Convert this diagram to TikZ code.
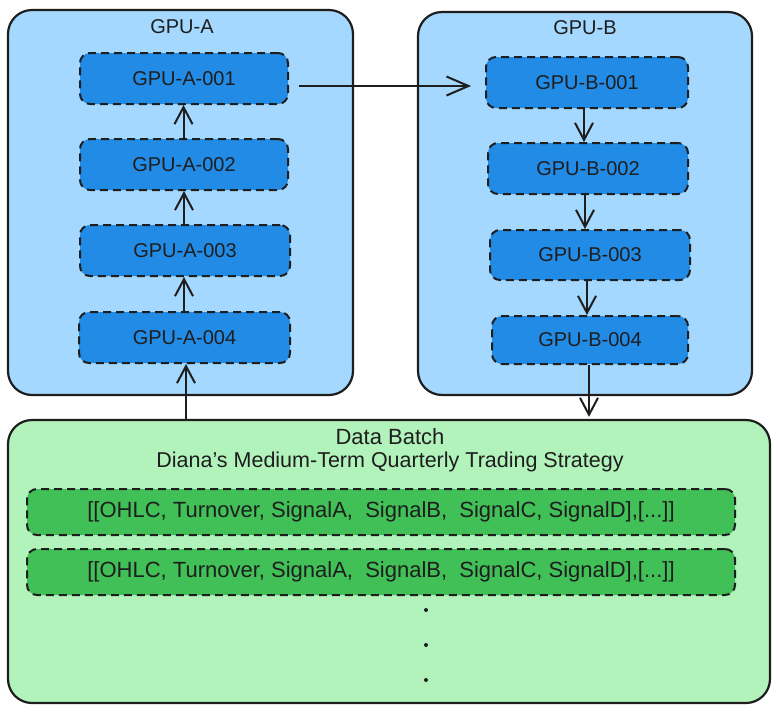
\documentclass[tikz,border=0pt]{standalone}
\usepackage{fontspec}
\setmainfont{Liberation Sans}
\usetikzlibrary{arrows.meta,calc}
\definecolor{ink}{HTML}{1E1E1E}
\definecolor{lblue}{HTML}{A5D8FF}
\definecolor{dblue}{HTML}{228BE6}
\definecolor{lgreen}{HTML}{B2F2BB}
\definecolor{dgreen}{HTML}{40C057}
\tikzset{
  container/.style={draw=ink,line width=2.2pt,rounded corners=24pt,inner sep=0pt},
  bluecont/.style={container,fill=lblue},
  greencont/.style={container,fill=lgreen},
  gpubox/.style={draw=ink,line width=2pt,dash pattern=on 8pt off 5pt,rounded corners=10pt,fill=dblue,inner sep=0pt,font=\fontsize{20}{23}\selectfont,text=ink},
  rowbox/.style={draw=ink,line width=2pt,dash pattern=on 8pt off 5pt,rounded corners=10pt,fill=dgreen,inner sep=0pt,minimum width=708pt,minimum height=46pt,font=\fontsize{22}{24}\selectfont,text=ink},
  titletext/.style={font=\fontsize{20}{23}\selectfont,text=ink,inner sep=0pt},
  flow/.style={draw=ink,line width=2pt,-{Straight Barb[length=17pt,width=18pt,line width=2pt]}},
  longflow/.style={draw=ink,line width=2pt,-{Straight Barb[length=22pt,width=19pt,line width=2pt]}},
  dotmark/.style={circle,fill=ink,inner sep=0pt,minimum size=4pt}
}
\begin{document}
\begin{tikzpicture}[x=1pt,y=-1pt]
\useasboundingbox[fill=white] (0,0) rectangle (780,713);
% containers
\node[bluecont,minimum width=345pt,minimum height=385pt] (contA) at (180.5,202.5) {};
\node[bluecont,minimum width=334pt,minimum height=383pt] (contB) at (585,203.5) {};
\node[greencont,minimum width=762pt,minimum height=283pt] (data) at (389,561.5) {};
% titles
\node[titletext] (titleA) at (182,27) {GPU-A};
\node[titletext] (titleB) at (585,28) {GPU-B};
\node[titletext,font=\fontsize{22}{24}\selectfont] (titleD1) at (390,437) {Data Batch};
\node[titletext,font=\fontsize{21.5}{24}\selectfont] (titleD2) at (390,462) {Diana's Medium-Term Quarterly Trading Strategy};
% GPU-A boxes
\node[gpubox,minimum width=208pt,minimum height=51pt] (A1) at (184,78.5) {GPU-A-001};
\node[gpubox,minimum width=208pt,minimum height=51pt] (A2) at (184,164.5) {GPU-A-002};
\node[gpubox,minimum width=210pt,minimum height=51pt] (A3) at (185,250.5) {GPU-A-003};
\node[gpubox,minimum width=211pt,minimum height=51pt] (A4) at (184.5,337.5) {GPU-A-004};
% GPU-B boxes
\node[gpubox,minimum width=202pt,minimum height=51pt] (B1) at (587,82.5) {GPU-B-001};
\node[gpubox,minimum width=200pt,minimum height=51pt] (B2) at (588,168.5) {GPU-B-002};
\node[gpubox,minimum width=200pt,minimum height=50pt] (B3) at (590,255) {GPU-B-003};
\node[gpubox,minimum width=196pt,minimum height=48pt] (B4) at (590,340) {GPU-B-004};
% data rows
\node[rowbox] (row1) at (381,512) {[[OHLC, Turnover, SignalA,\ \ SignalB,\ \ SignalC, SignalD],[...]]};
\node[rowbox] (row2) at (381,572) {[[OHLC, Turnover, SignalA,\ \ SignalB,\ \ SignalC, SignalD],[...]]};
\node[dotmark] (d1) at (426,610) {};
\node[dotmark] (d2) at (426,645) {};
\node[dotmark] (d3) at (426,680) {};
% arrows GPU-A (upwards)
\draw[flow] (data.north -| 186,0) -- (A4.south -| 186,0);
\draw[flow] (A4.north -| 184,0) -- (A3.south -| 184,0);
\draw[flow] (A3.north -| 184,0) -- (A2.south -| 184,0);
\draw[flow] (A2.north -| 183.5,0) -- (A1.south -| 183.5,0);
% A -> B
\draw[longflow] ($(A1.east)+(10,7.5)$) -- ($(B1.west)+(-14,3.5)$);
% arrows GPU-B (downwards)
\draw[flow] (B1.south -| 584,0) -- (B2.north -| 584,0);
\draw[flow] (B2.south -| 585,0) -- (B3.north -| 585,0);
\draw[flow] (B3.south -| 587,0) -- (B4.north -| 587,0);
\draw[flow] (B4.south -| 589,0) -- ([yshift=2pt]data.north -| 589,0);
\end{tikzpicture}
\end{document}
